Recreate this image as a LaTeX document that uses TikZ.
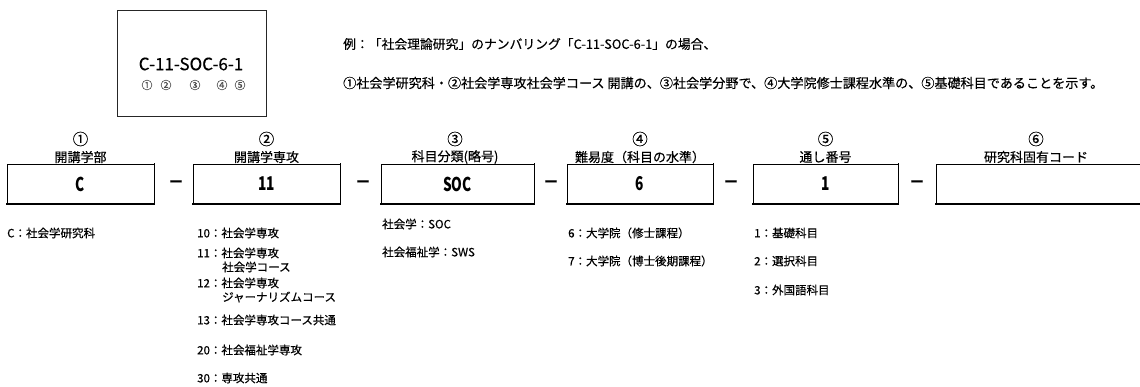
\documentclass[tikz,border=0pt]{standalone}
\usepackage{fontspec}
\setmainfont{Noto Sans CJK JP}[FakeBold=0.4]
\newfontfamily\valfont[FakeStretch=0.72]{Noto Sans CJK JP}
\tikzset{
  valbox/.style={draw=black, line width=0.6pt, minimum height=40pt, inner sep=0pt,
    font=\valfont\bfseries\fontsize{19}{19}\selectfont},
  edgeline/.style={line width=1.6pt, line cap=rect},
  hdr/.style={inner sep=0pt, font=\fontsize{13}{13}\selectfont},
  hdrnum/.style={inner sep=0pt, font=\fontsize{15.5}{15.5}\selectfont},
  item/.style={anchor=west, inner sep=0pt, font=\fontsize{11.5}{12}\selectfont},
  note/.style={anchor=west, inner sep=0pt, font=\fontsize{12.8}{14}\selectfont},
  dashsym/.style={inner sep=0pt, font=\bfseries\fontsize{16}{16}\selectfont},
  circnum/.style={inner sep=0pt, text=black!70, font=\fontsize{11}{11}\selectfont},
}
\begin{document}
\begin{tikzpicture}[x=1pt,y=-1pt]
\useasboundingbox (0,0) rectangle (1140,387);
\fill[white] (0,0) rectangle (1140,387);

% example box
\node[draw=black!85, line width=0.6pt, minimum width=149pt, minimum height=106pt, inner sep=0pt] (ex) at (191.5,63) {};
\node[inner sep=0pt, font=\fontsize{17}{17}\selectfont] (excode) at (191,64) {C-11-SOC-6-1};
\node[circnum] (ex1) at (147,85) {①};
\node[circnum] (ex2) at (166,85) {②};
\node[circnum] (ex3) at (195,85) {③};
\node[circnum] (ex4) at (222,85) {④};
\node[circnum] (ex5) at (240,85) {⑤};

% explanation
\node[note] (n1) at (343,44) {例：「社会理論研究」のナンバリング「C-11-SOC-6-1」の場合、};
\node[note, font=\fontsize{13.1}{14}\selectfont] (n2) at (343,83) {①社会学研究科・②社会学専攻社会学コース 開講の、③社会学分野で、④大学院修士課程水準の、⑤基礎科目であることを示す。};

% boxes
\node[valbox, minimum width=147pt] (b1) at (80.5,184) {C};
\node[valbox, minimum width=147pt] (b2) at (266.5,184) {11};
\node[valbox, minimum width=153pt] (b3) at (457.5,184) {SOC};
\node[valbox, minimum width=146pt] (b4) at (640,184) {6};
\node[valbox, minimum width=145pt] (b5) at (825.5,184) {1};
\node[valbox, minimum width=210pt] (b6) at (1041,184) {};
\foreach \b in {b1,b2,b3,b4,b5}{
  \draw[edgeline] (\b.north east) -- (\b.south east) -- (\b.south west);
}
\draw[edgeline] (b6.south west) -- (b6.south east);

% dashes
\node[dashsym] (d1) at (176,184) {－};
\node[dashsym] (d2) at (363,184) {－};
\node[dashsym] (d3) at (551,184) {－};
\node[dashsym] (d4) at (731,184) {－};
\node[dashsym] (d5) at (917,184) {－};

% headers
\node[hdrnum] (c1) at (80.5,139) {①};
\node[hdr] (h1) at (80.5,157) {開講学部};
\node[hdrnum] (c2) at (266.5,139) {②};
\node[hdr] (h2) at (266.5,157) {開講学専攻};
\node[hdrnum] (c3) at (455,139) {③};
\node[hdr] (h3) at (455,157) {科目分類(略号)};
\node[hdrnum] (c4) at (640,139) {④};
\node[hdr] (h4) at (640,157) {難易度（科目の水準）};
\node[hdrnum] (c5) at (825.5,139) {⑤};
\node[hdr] (h5) at (825.5,157) {通し番号};
\node[hdrnum] (c6) at (1036,139) {⑥};
\node[hdr] (h6) at (1036,157) {研究科固有コード};

% column 1
\node[item] (i1a) at (7,233) {C：社会学研究科};
% column 2
\node[item] (i2a) at (197,233) {10：社会学専攻};
\node[item] (i2b) at (197,253) {11：社会学専攻};
\node[item] (i2b2) at (222,267) {社会学コース};
\node[item] (i2c) at (197,283) {12：社会学専攻};
\node[item] (i2c2) at (222,297) {ジャーナリズムコース};
\node[item] (i2d) at (197,320) {13：社会学専攻コース共通};
\node[item] (i2e) at (197,350) {20：社会福祉学専攻};
\node[item] (i2f) at (197,378) {30：専攻共通};
% column 3
\node[item] (i3a) at (382,224) {社会学：SOC};
\node[item] (i3b) at (382,252) {社会福祉学：SWS};
% column 4
\node[item] (i4a) at (568,233) {6：大学院（修士課程）};
\node[item] (i4b) at (568,261) {7：大学院（博士後期課程）};
% column 5
\node[item] (i5a) at (754,233) {1：基礎科目};
\node[item] (i5b) at (754,261) {2：選択科目};
\node[item] (i5c) at (754,290) {3：外国語科目};
\end{tikzpicture}
\end{document}
